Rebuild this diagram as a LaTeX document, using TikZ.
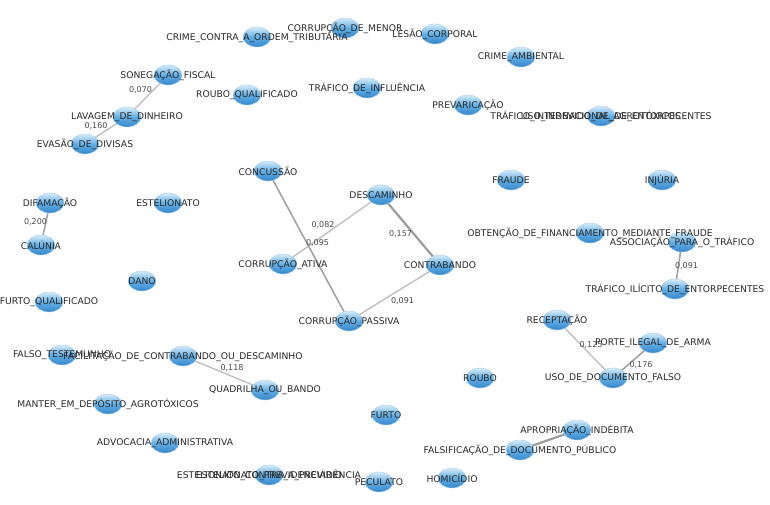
\documentclass[tikz,border=0pt]{standalone}
\usepackage{fontspec}
\setmainfont{DejaVu Sans}
\usetikzlibrary{shapes.geometric,backgrounds}
\definecolor{nodetop}{HTML}{D6ECFA}
\definecolor{nodemid}{HTML}{62AEE3}
\definecolor{nodebot}{HTML}{3587CC}
\definecolor{nodeedge}{HTML}{A9CFEA}
\definecolor{txt}{HTML}{2A2A2A}
\definecolor{edgec}{HTML}{BDBDBD}
\definecolor{edged}{HTML}{9C9C9C}
\definecolor{elabc}{HTML}{4A4A4A}
\tikzset{
  crime/.style={ellipse, minimum width=28pt, minimum height=20pt, inner sep=0pt,
    draw=nodeedge, line width=0.4pt, top color=nodetop, bottom color=nodebot, middle color=nodemid},
  lbl/.style={font=\fontsize{9.2}{10}\selectfont, text=txt, inner sep=0pt},
  link/.style={draw=edgec, line width=1.3pt},
  linkd/.style={draw=edged, line width=2.2pt},
  linkm/.style={draw=edged!80!edgec, line width=1.6pt},
  elab/.style={font=\fontsize{8}{9}\selectfont, text=elabc, inner sep=0pt}
}
\begin{document}
\begin{tikzpicture}[x=1pt,y=-1pt]
\useasboundingbox (0,0) rectangle (770,505);
% nodes
\node[crime] (cmen) at (345,28) {};
\node[crime] (cord) at (257,37) {};
\node[crime] (lesao) at (435,34) {};
\node[crime] (camb) at (521,57) {};
\node[crime] (soneg) at (168,75) {};
\node[crime] (roubq) at (247,95) {};
\node[crime] (trinf) at (367,88) {};
\node[crime] (prev) at (468,105) {};
\node[crime] (trint) at (601,116) {};
\node[crime] (lavag) at (127,117) {};
\node[crime] (evas) at (85,144) {};
\node[crime] (conc) at (268,171) {};
\node[crime] (desc) at (381,195) {};
\node[crime] (fraude) at (511,180) {};
\node[crime] (injur) at (662,180) {};
\node[crime] (difam) at (50,203) {};
\node[crime] (estel) at (168,203) {};
\node[crime] (calun) at (41,245) {};
\node[crime] (obten) at (590,233) {};
\node[crime] (assoc) at (682,242) {};
\node[crime] (cativ) at (283,264) {};
\node[crime] (contr) at (440,265) {};
\node[crime] (trilic) at (675,289) {};
\node[crime] (dano) at (142,281) {};
\node[crime] (furq) at (49,302) {};
\node[crime] (cpass) at (349,321) {};
\node[crime] (recep) at (557,320) {};
\node[crime] (porte) at (653,343) {};
\node[crime] (uso) at (613,378) {};
\node[crime] (falso) at (62,355) {};
\node[crime] (facil) at (183,356) {};
\node[crime] (quadr) at (265,390) {};
\node[crime] (roubo) at (480,378) {};
\node[crime] (mant) at (108,404) {};
\node[crime] (furto) at (386,415) {};
\node[crime] (advoc) at (165,443) {};
\node[crime] (aprop) at (577,430) {};
\node[crime] (falsif) at (520,450) {};
\node[crime] (estprev) at (269,475) {};
\node[crime] (pecul) at (379,482) {};
\node[crime] (homic) at (452,478) {};
% labels
\node[lbl] at (cmen) {CORRUPÇÃO\_DE\_MENOR};
\node[lbl] at (cord) {CRIME\_CONTRA\_A\_ORDEM\_TRIBUTÁRIA};
\node[lbl] at (lesao) {LESÃO\_CORPORAL};
\node[lbl] at (camb) {CRIME\_AMBIENTAL};
\node[lbl] at (soneg) {SONEGAÇÃO\_FISCAL};
\node[lbl] at (roubq) {ROUBO\_QUALIFICADO};
\node[lbl] at (trinf) {TRÁFICO\_DE\_INFLUÊNCIA};
\node[lbl] at (prev) {PREVARICAÇÃO};
\node[lbl] at (trint) {TRÁFICO\_INTERNACIONAL\_DE\_ENTORPECENTES};
\node[lbl] at (trint) {USO\_INDEVIDO\_DE\_AGROTÓXICOS};
\node[lbl] at (lavag) {LAVAGEM\_DE\_DINHEIRO};
\node[lbl] at (evas) {EVASÃO\_DE\_DIVISAS};
\node[lbl] at (conc) {CONCUSSÃO};
\node[lbl] at (desc) {DESCAMINHO};
\node[lbl] at (fraude) {FRAUDE};
\node[lbl] at (injur) {INJÚRIA};
\node[lbl] at (difam) {DIFAMAÇÃO};
\node[lbl] at (estel) {ESTELIONATO};
\node[lbl] at (calun) {CALÚNIA};
\node[lbl] at (obten) {OBTENÇÃO\_DE\_FINANCIAMENTO\_MEDIANTE\_FRAUDE};
\node[lbl] at (assoc) {ASSOCIAÇÃO\_PARA\_O\_TRÁFICO};
\node[lbl] at (cativ) {CORRUPÇÃO\_ATIVA};
\node[lbl] at (contr) {CONTRABANDO};
\node[lbl] at (trilic) {TRÁFICO\_ILÍCITO\_DE\_ENTORPECENTES};
\node[lbl] at (dano) {DANO};
\node[lbl] at (furq) {FURTO\_QUALIFICADO};
\node[lbl] at (cpass) {CORRUPÇÃO\_PASSIVA};
\node[lbl] at (recep) {RECEPTAÇÃO};
\node[lbl] at (porte) {PORTE\_ILEGAL\_DE\_ARMA};
\node[lbl] at (uso) {USO\_DE\_DOCUMENTO\_FALSO};
\node[lbl] at (falso) {FALSO\_TESTEMUNHO};
\node[lbl] at (facil) {FACILITAÇÃO\_DE\_CONTRABANDO\_OU\_DESCAMINHO};
\node[lbl] at (quadr) {QUADRILHA\_OU\_BANDO};
\node[lbl] at (roubo) {ROUBO};
\node[lbl] at (mant) {MANTER\_EM\_DEPÓSITO\_AGROTÓXICOS};
\node[lbl] at (furto) {FURTO};
\node[lbl] at (advoc) {ADVOCACIA\_ADMINISTRATIVA};
\node[lbl] at (aprop) {APROPRIAÇÃO\_INDÉBITA};
\node[lbl] at (falsif) {FALSIFICAÇÃO\_DE\_DOCUMENTO\_PÚBLICO};
\node[lbl] at (estprev) {ESTELIONATO\_CONTRA\_A\_PREVIDÊNCIA};
\node[lbl] at (estprev) {ESTELIONATO\_PREVIDENCIÁRIO};
\node[lbl] at (pecul) {PECULATO};
\node[lbl] at (homic) {HOMICÍDIO};
% edges
\begin{scope}[on background layer]
\fill[white] (0,0) rectangle (770,505);
\draw[link] (soneg.center) -- node[elab, xshift=-7pt, yshift=6pt] {0,070} (lavag.center);
\draw[link] (lavag.center) -- node[elab, xshift=-10pt, yshift=5pt] {0,160} (evas.center);
\draw[linkm] (difam.center) -- node[elab, xshift=-10pt, yshift=2pt] {0,200} (calun.center);
\draw[link] (desc.center) -- node[elab, xshift=-9pt, yshift=5pt] {0,082} (cativ.center);
\draw[linkm] (conc.center) -- node[elab, xshift=9pt, yshift=3pt] {0,095} (cpass.center);
\draw[linkd] (desc.center) -- node[elab, xshift=-10pt, yshift=-4pt] {0,157} (contr.center);
\draw[link] (contr.center) -- node[elab, xshift=8pt, yshift=-8pt] {0,091} (cpass.center);
\draw[linkm] (assoc.center) -- node[elab, xshift=8pt] {0,091} (trilic.center);
\draw[link] (recep.center) -- node[elab, xshift=6pt, yshift=4pt] {0,125} (uso.center);
\draw[linkm] (porte.center) -- node[elab, xshift=8pt, yshift=-4pt] {0,176} (uso.center);
\draw[link] (facil.center) -- node[elab, xshift=8pt, yshift=5pt] {0,118} (quadr.center);
\draw[linkd] (falsif.center) -- (aprop.center);
\end{scope}
\end{tikzpicture}
\end{document}
